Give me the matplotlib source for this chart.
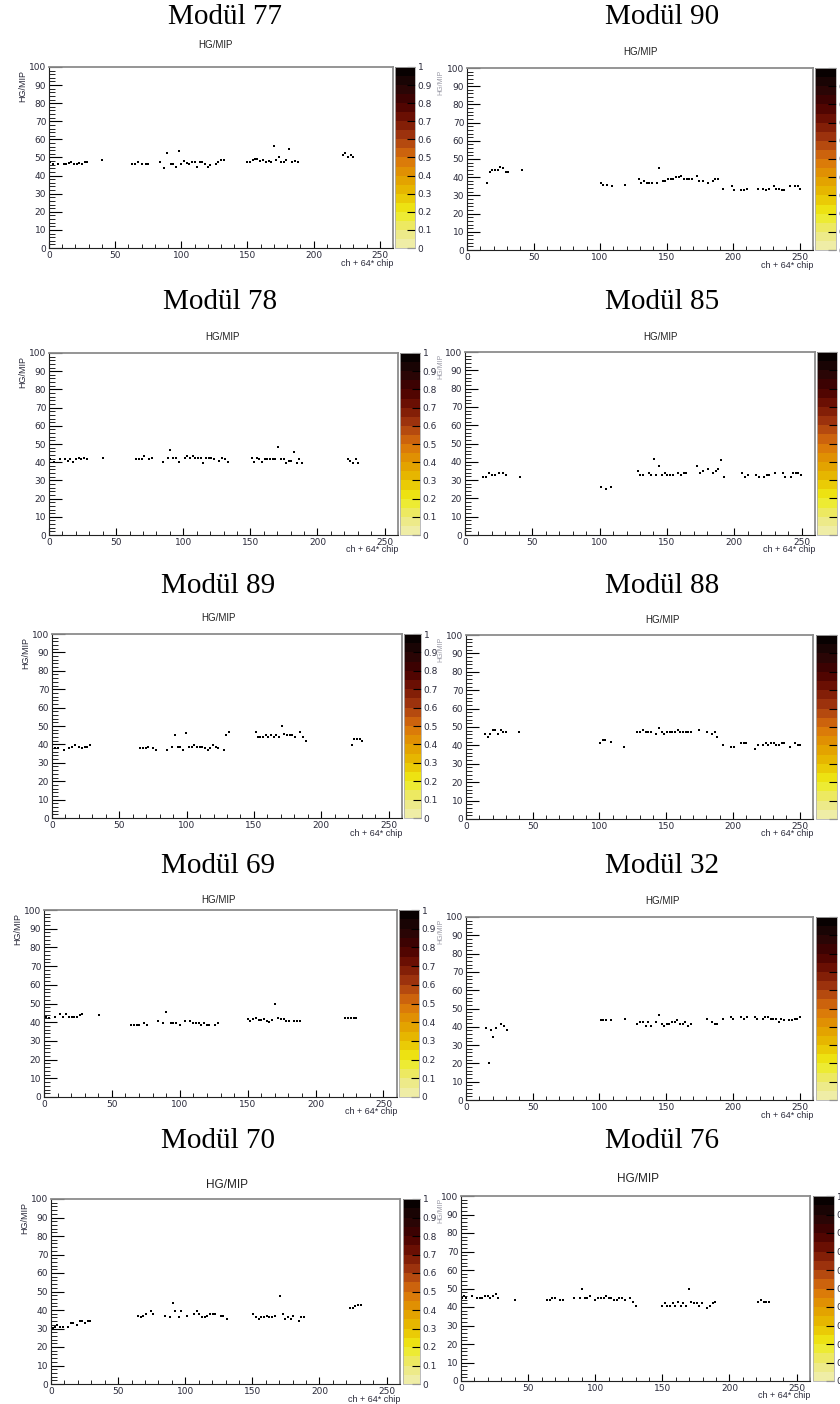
import numpy as np
import matplotlib
matplotlib.use("Agg")
import matplotlib.pyplot as plt
from matplotlib.colors import LinearSegmentedColormap, ListedColormap, Normalize
from matplotlib.colorbar import ColorbarBase
from matplotlib.ticker import MultipleLocator, FormatStrFormatter

W, H = 840, 1404

# ---------------- data ----------------
x_m77 = [1, 3, 7, 11, 13, 15, 17, 19, 21, 23, 25, 27, 29, 40,
         63, 65, 67.5, 70, 73, 75, 84, 87, 89, 92, 94, 96, 98, 100, 102, 104, 106, 108,
         110, 112, 114, 116, 118, 120, 122, 126, 128, 130, 132,
         150, 152, 154, 156, 157.5, 159.5, 161.5, 164, 166, 168, 170, 171.5, 173.5, 175.5,
         177.5, 179.5, 181.5, 184, 186, 188,
         222, 224, 226, 228, 230]
y_m77 = [47.7, 46.2, 46.6, 46.6, 46.6, 47.2, 47.5, 46.6, 46.6, 47.2, 46.6, 47.5, 47.5, 48.6,
         46.6, 46.6, 47.5, 46.6, 46.6, 46.6, 47.5, 44.4, 52.5, 46.6, 46.2, 45, 53.6, 46.6, 48, 47.2, 46.6, 47.5,
         47.5, 45, 47.5, 47.5, 46.6, 45, 46, 46.6, 47.5, 48.4, 48.4,
         47.5, 47.5, 48.6, 49.4, 49.4, 48, 48.6, 47.5, 48, 47.5, 56.5, 48.6, 50.5, 47.5,
         47.5, 48.6, 54.5, 47.5, 48, 47.5,
         51.6, 52.5, 50.5, 51.6, 50.5]

x_m90 = [15, 17, 19, 21, 23, 25, 27, 29, 31, 41,
         101, 102.5, 105, 109, 119,
         129, 131, 133, 135, 137, 139, 142.5, 144.5,
         147, 149, 151, 153, 155, 157, 159, 161, 163, 165, 167, 169,
         172.5, 174.5, 177, 181, 184.5, 186.5, 188.5,
         192.5, 199, 200.5, 206, 208, 210.5,
         219, 222.5, 224.5, 227, 230.5, 232.5, 234.5, 236.5, 238.5, 242.5, 246.5, 248.5, 250.5]
y_m90 = [36.9, 42.8, 43.7, 43.7, 43.7, 45.7, 44.8, 42.8, 42.8, 43.7,
         36.9, 35.8, 35.8, 34.9, 35.8,
         38.8, 36.9, 37.8, 36.9, 36.9, 36.9, 36.9, 44.8,
         37.8, 37.8, 38.8, 38.8, 38.8, 39.9, 39.9, 40.8, 38.8, 38.8, 38.8, 38.8,
         40.8, 37.8, 37.8, 36.9, 37.8, 38.8, 38.8,
         33.7, 34.9, 32.9, 32.9, 32.9, 33.7,
         33.7, 33.7, 32.9, 33.7, 34.9, 33.7, 33.7, 32.9, 32.9, 34.9, 34.9, 34.9, 33.7]

x_m78 = [1, 4, 8, 12, 14, 16, 18, 20, 22, 24, 26, 28, 40.4,
         65, 67, 69, 70.5, 74.5, 76.5, 85, 88.5, 90.5, 92.5, 94.5, 96.5, 101.5, 103, 105, 107,
         109, 111, 113, 115, 117, 119, 121, 123, 127, 129, 131, 133,
         151, 152.7, 154.7, 156.7, 158.7, 160.7, 162.7, 164.7, 166.7, 168.7, 170.7, 173, 175,
         176.6, 178.6, 180.6, 182.6, 184.6, 186.6, 188.6,
         222.6, 224.6, 226.6, 228.5, 230.5]
y_m78 = [41.6, 40.3, 41.6, 41.6, 40.7, 41.6, 40.3, 41.6, 42.5, 41.6, 42.5, 41.6, 42.5,
         41.6, 41.6, 41.6, 43.6, 41.6, 42.5, 40.3, 42.5, 46.5, 42.5, 42.5, 40.3, 42.5, 43.6, 42.5, 43.6,
         42.5, 42.5, 42.5, 39.6, 42.5, 42.5, 42.5, 41.6, 40.7, 42.5, 41.6, 40.3,
         42.5, 40.3, 42.5, 41.6, 40.3, 41.6, 41.6, 41.6, 41.6, 41.6, 48.5, 41.6, 41.6,
         39.6, 40.7, 40.7, 45.6, 39.6, 41.6, 39.6,
         41.6, 40.7, 39.6, 41.6, 39.6]

x_m85 = [13.6, 15.6, 18, 20, 22, 25, 28.5, 30.5, 41,
         101, 104.7, 108.4,
         128.2, 130.2, 132.2, 136.4, 138.4, 140.4, 142.1, 144.3, 146.3, 148.3,
         150.3, 152.3, 154.5, 158.5, 160.5, 162.4, 164.4,
         172.4, 174.3, 176.6, 180.6, 184.3, 186.3, 188.2, 190.2, 192.5,
         206, 208, 210, 216, 218.3, 222, 224, 226, 230, 236, 238, 242, 244, 246, 247.5, 249.8]
y_m85 = [31.8, 31.8, 33.8, 32.9, 32.9, 33.8, 33.8, 32.9, 31.8,
         26, 25, 26,
         34.9, 32.9, 32.9, 33.8, 32.9, 41.8, 32.9, 37.8, 32.9, 33.8,
         32.9, 32.9, 32.9, 33.8, 32.9, 33.8, 33.8,
         37.8, 33.8, 34.9, 35.8, 33.8, 34.9, 35.8, 40.9, 31.8,
         33.8, 31.8, 32.9, 32.9, 31.8, 31.8, 32.9, 32.9, 33.8, 33.8, 31.8, 31.8, 33.8, 33.8, 33.8, 32.9]

x_m89 = [2.5, 4.5, 8.7, 12.4, 14.9, 17.3, 19.8, 22.3, 24.3, 26, 28,
         65.6, 67.6, 69.6, 71.5, 75, 77.2, 85.4, 89.1, 91.3, 93.3, 95.3, 97, 99.3, 101.7,
         103.7, 105.7, 107.7, 109.7, 111.6, 113.6, 115.6, 117.6, 119.6, 121.5, 123.5, 127.5, 129, 131.4,
         151.2, 152.7, 154.7, 156.7, 158.7, 160.6, 162.6, 164.6, 166.6, 168.6, 171, 172.5,
         174.5, 176.5, 178.5, 180.4, 184.4, 186.4, 188.6,
         222.8, 224.5, 226.5, 228.5, 230.2]
y_m89 = [38, 38, 36.7, 38, 38.8, 39.7, 38.8, 38, 38.8, 38.8, 39.7,
         38, 38, 38, 38.8, 38, 36.7, 36.7, 38.8, 45, 38.8, 38.8, 36.7, 46, 38.8,
         38.8, 39.7, 38.8, 38.8, 38.8, 38, 36.7, 38, 39.7, 38.8, 38, 36.7, 45, 46.9,
         46.9, 43.9, 43.9, 43.9, 45, 43.9, 45, 43.9, 45, 43.9, 49.9, 45.9,
         45, 45, 45, 43.9, 46.9, 43.9, 41.7,
         39.7, 43, 43, 43, 41.7]

x_m88 = [14, 16.2, 18, 20, 22, 24.2, 26.2, 28, 30, 40,
         100.5, 102.3, 104.3, 108.3, 118.3,
         128.5, 130.5, 132.7, 134.7, 136.7, 138.7, 142.7, 144.5, 146.7, 148.7, 150.7, 152.7,
         154.7, 156.7, 158.7, 160.7, 162.7, 164.7, 166.7, 168.7, 174.7, 180.6, 184.6, 186.6, 188.4,
         192.6, 198.6, 200.6, 206.1, 208.1, 210.1, 216.6, 218.6, 222.6, 224.6, 226.5,
         228.5, 230.5, 232.5, 234.5, 236.5, 238.5, 242.5, 246.5, 248.5, 250.5]
y_m88 = [46.3, 44.8, 46.3, 48.1, 48.1, 46.3, 48.1, 47.2, 47.2, 47.2,
         41.2, 43.2, 43.2, 42.1, 39.2,
         47.2, 47.2, 48.1, 47.2, 47.2, 47.2, 46.3, 49.2, 47.2, 46.3, 47.2, 47.2,
         47.2, 47.2, 48.1, 47.2, 47.2, 47.2, 47.2, 47.2, 48.1, 47.2, 46.3, 47.2, 44.3,
         40.3, 39.2, 39.2, 41.2, 41.2, 41.2, 38.3, 40.3, 40.3, 41.2, 40.3,
         41.2, 41.2, 40.3, 40.3, 41.2, 41.2, 39.2, 41.2, 40.3, 40.3]

x_m69 = [1.7, 3.7, 7.9, 11.6, 14, 16.5, 18.4, 20.4, 22.4, 24.3, 26.3, 28.3, 40.3,
         64.4, 66.4, 68.3, 70.3, 74, 76.2, 84.3, 87.8, 89.7, 93.2, 95.1, 97.1,
         100.5, 104, 107.9, 109.9, 111.8, 113.8, 115.8, 117.7, 119.7, 121.7, 125.6, 128.1,
         150.2, 152, 154, 156, 158, 160, 162, 164, 166, 168, 170.5, 172.5, 174.5, 176.5,
         178.5, 180.5, 184.5, 186.5, 188.5,
         222, 224, 226, 228, 230]
y_m69 = [42.9, 42, 42.9, 44.6, 42.9, 44.6, 42.9, 42.9, 42.9, 42.9, 43.8, 44.6, 43.8,
         38.4, 38.4, 38.4, 38.4, 39.5, 38.4, 40.5, 39.5, 45.5, 39.5, 39.5, 39.5,
         38.4, 40.5, 40.5, 39.5, 39.5, 39.5, 38.4, 39.5, 38.4, 38.4, 38.4, 39.5,
         41.5, 40.5, 41.5, 42, 41, 41, 41.5, 40.5, 40, 41, 49.5, 42, 41.5, 41.5,
         40.5, 40.5, 40.5, 40.5, 40.5,
         42.5, 42.5, 42.5, 42, 42]

x_m32 = [15, 17, 18.7, 20.5, 22.5, 26.2, 28.4, 30.4,
         101, 102.8, 104.8, 108.5, 119,
         128.5, 130.5, 132.5, 134.5, 136.5, 138.5, 142.5, 144.5, 146.5, 148.5, 150.4, 152.4,
         154.4, 156.4, 158.4, 160.4, 162.4, 164.4, 166.4, 168.4,
         180.4, 184.4, 186.4, 188.4, 192.4, 198.4, 200.4, 206.3, 208.3, 210.3, 216.3, 218.3,
         222.3, 224.3, 226.3, 228.3, 230.3, 232.3, 234.3, 236.3, 238.3, 242.3, 244.3, 246.3,
         248.3, 250.3]
y_m32 = [39.5, 20.4, 38.4, 34.4, 39.5, 41.5, 40.4, 38.4,
         43.5, 43.5, 43.5, 43.5, 44.4,
         41.5, 42.4, 42.4, 40.4, 42.4, 40.4, 42.4, 46.4, 41.5, 40.4, 41.5, 41.5,
         42.4, 42.4, 43.5, 41.5, 41.5, 42.4, 40.4, 41.5,
         44.4, 42.4, 41.5, 41.5, 44.4, 45.5, 44.4, 45.5, 44.4, 45.5, 45.5, 44.4,
         44.4, 45.5, 45.5, 44.4, 44.4, 44.4, 42.4, 44.4, 43.5, 43.5, 43.5, 44.4,
         44.4, 45.5]

x_m70 = [1.7, 3, 4.7, 6.7, 9.2, 12.4, 14.6, 16.6, 19.1, 21.6, 23.3, 25.3, 27.3, 29,
         64.8, 66.8, 68.8, 70.8, 74.2, 76.3, 84.7, 88.6, 90.6, 92.6, 95.1, 97.1, 101,
         106.5, 108.5, 110.5, 112.5, 114.5, 116.4, 118.4, 120.4, 122.4, 126.4, 128.4, 130.8,
         150.7, 152.7, 154.7, 156.7, 158.6, 160.6, 162.6, 164.6, 166.6, 170.6, 172.5, 174.5,
         176.5, 178.5, 180.5, 184.5, 186.4, 188.4,
         222.7, 224.7, 226.7, 228.7, 230.6]
y_m70 = [30.2, 30.6, 31.7, 30.6, 31, 31, 32.9, 32.9, 32, 33.8, 33.8, 32.9, 33.8, 33.8,
         37, 36, 37, 37.9, 39.2, 37.9, 37, 36, 44, 39.2, 36, 39.2, 37,
         37.9, 39.2, 37.9, 36, 36, 37, 37.9, 37.9, 37.9, 37, 37, 34.9,
         37.9, 36, 34.9, 36, 36, 37, 36, 36, 37, 47.8, 37.9, 34.9,
         36, 34.9, 37, 33.8, 36, 36,
         41, 41, 41.9, 42.8, 42.8]

x_m76 = [1, 2.5, 4, 8.4, 11.9, 13.9, 15.9, 17.9, 19.8, 21.8, 23.8, 25.8, 27.8, 40.2,
         64, 66, 67.8, 69.9, 73.9, 75.9, 84.3, 88.3, 90.3, 92.3, 94.2, 96.2, 100.2, 102.2,
         104.2, 106.2, 108.1, 110.1, 112.1, 114.1, 116.1, 118, 120, 122, 126, 128, 130,
         149.8, 151.8, 153.8, 155.8, 157.7, 159.7, 161.7, 163.7, 165.7, 167.7, 169.6, 171.6,
         173.6, 175.6, 177.6, 179.6, 183.5, 185.5, 187.5, 189.5,
         221.5, 223.5, 225.4, 227.4, 229.4]
y_m76 = [45, 46, 45, 46, 44.6, 44.6, 44.6, 46, 46, 44.6, 46, 47.1, 44.6, 43.7,
         43.7, 43.7, 44.6, 44.6, 43.7, 43.7, 44.6, 44.6, 49.6, 44.6, 44.6, 46, 43.7, 44.6,
         44.6, 44.6, 46, 44.6, 44.6, 43.7, 43.7, 44.6, 44.6, 43.7, 44.6, 42.8, 40.6,
         40.6, 41.9, 40.6, 40.6, 41.9, 40.6, 42.8, 40.6, 41.9, 40.6, 49.6, 42.8,
         41.9, 41.9, 40.6, 41.9, 39.6, 40.6, 41.9, 42.8,
         42.8, 43.7, 42.8, 42.8, 42.8]

# ---------------- layout (pixel boxes: left, top, right, bottom) ----------------
panels = [
    # name, x, y, axes box, colorbar box, module title xy, HG/MIP title xy, title size
    ("77", x_m77, y_m77, (49, 67, 393, 248), (395, 67, 415, 248), (225, 17), (215, 45), 7),
    ("90", x_m90, y_m90, (467, 68, 813, 250), (815, 68, 836, 250), (662, 17), (640, 52), 7),
    ("78", x_m78, y_m78, (49, 353, 398, 535), (400, 353, 420, 535), (220, 302), (222, 337), 7),
    ("85", x_m85, y_m85, (465, 352, 815, 535), (817, 352, 837, 535), (662, 302), (660, 337), 7),
    ("89", x_m89, y_m89, (52, 634, 402, 818), (404, 634, 421, 818), (218, 586), (218, 618), 7),
    ("88", x_m88, y_m88, (466, 635, 813, 819), (816, 635, 837, 819), (662, 586), (662, 620), 7),
    ("69", x_m69, y_m69, (44, 910, 397, 1097), (399, 910, 419, 1097), (218, 866), (218, 900), 7),
    ("32", x_m32, y_m32, (466, 917, 813, 1100), (816, 917, 837, 1100), (662, 866), (662, 901), 7),
    ("70", x_m70, y_m70, (51, 1199, 400, 1384), (403, 1199, 420, 1384), (218, 1141), (227, 1185), 8.5),
    ("76", x_m76, y_m76, (461, 1196, 810, 1381), (813, 1196, 834, 1381), (662, 1141), (638, 1179), 8.5),
]


def box(l, t, r, b):
    return [l / W, 1 - b / H, (r - l) / W, (b - t) / H]


# ROOT-like dark body palette, 20 levels
base = LinearSegmentedColormap.from_list("darkbody", [
    (0.00, "#f0eeb4"), (0.10, "#ece87a"), (0.20, "#eeec18"), (0.30, "#e8c000"),
    (0.40, "#e29a00"), (0.50, "#d8700c"), (0.60, "#aa3e10"), (0.70, "#761404"),
    (0.80, "#460000"), (0.90, "#220606"), (1.00, "#000000")])
cmap = ListedColormap(base(np.linspace(0.025, 0.975, 20)))

fig = plt.figure(figsize=(W / 100, H / 100), dpi=100)
fig.patch.set_facecolor("white")

label_kw = dict(fontsize=6.5, color="#2a2a3a", family="Liberation Sans")

for i, (name, xs, ys, abox, cbox, mpos, tpos, tsize) in enumerate(panels):
    ax = fig.add_axes(box(*abox))
    ax.plot(xs, ys, "s", color="black", markersize=2.1, markeredgewidth=0)
    ax.set_xlim(0, 260)
    ax.set_ylim(0, 100)

    ax.xaxis.set_major_locator(MultipleLocator(50))
    ax.xaxis.set_minor_locator(MultipleLocator(10))
    ax.yaxis.set_major_locator(MultipleLocator(10))
    ax.yaxis.set_minor_locator(MultipleLocator(2))
    ax.tick_params(which="both", direction="in", top=False, right=False,
                   labelsize=6.5, labelcolor="#2a2a3a", pad=2)
    ax.tick_params(axis="y", which="major", length=9, width=0.8)
    ax.tick_params(axis="y", which="minor", length=4.5, width=0.6)
    ax.tick_params(axis="x", which="major", length=5, width=0.8)
    ax.tick_params(axis="x", which="minor", length=3, width=0.6)
    for s in ("top", "right"):
        ax.spines[s].set_color("#8c8c8c")
        ax.spines[s].set_linewidth(1.3)
    for s in ("left", "bottom"):
        ax.spines[s].set_color("#222222")
        ax.spines[s].set_linewidth(0.8)

    # colour palette on the right
    cax = fig.add_axes(box(*cbox))
    cb = ColorbarBase(cax, cmap=cmap, norm=Normalize(0, 1),
                      ticks=np.linspace(0, 1, 11), format=FormatStrFormatter("%g"))
    cb.ax.tick_params(direction="in", length=6, width=0.8, labelsize=6.5,
                      labelcolor="#2a2a3a", pad=2, color="black")
    cb.outline.set_edgecolor("#b0b0b0")
    cb.outline.set_linewidth(0.6)

    l, t, r, b = abox
    fig.text(r / W, 1 - (b + 15) / H, "ch + 64* chip", ha="right", va="center", **label_kw)
    if i % 2 == 0:
        fig.text((l - 31) / W, 1 - (t + 3) / H, "HG/MIP", rotation=90, ha="left", va="top",
                 **label_kw)
    else:
        # right column: the y title sits squeezed against the neighbour's palette
        fig.text(437 / W, 1 - (t + 2) / H, "HG/MIP", rotation=90, ha="left", va="top",
                 fontsize=5, color="#9a9aa6", family="Liberation Sans")
    fig.text(tpos[0] / W, 1 - tpos[1] / H, "HG/MIP", ha="center", va="center",
             fontsize=tsize, color="#222222", family="Liberation Sans")
    fig.text(mpos[0] / W, 1 - mpos[1] / H, "Modül " + name, ha="center", va="center",
             fontsize=21, family="Liberation Serif", color="black")

fig.savefig("out.png", dpi=100)
